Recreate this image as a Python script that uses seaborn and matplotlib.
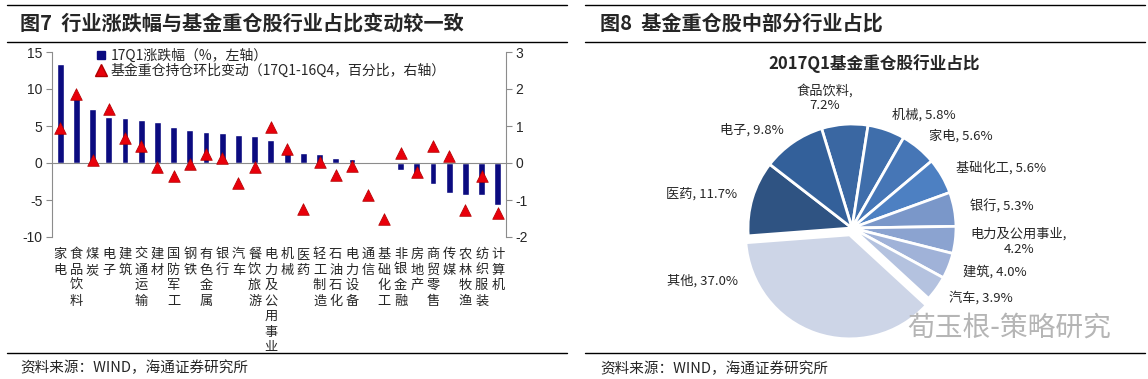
import numpy as np
import pandas as pd
import matplotlib
matplotlib.use('Agg')
import matplotlib.pyplot as plt
from matplotlib.lines import Line2D
import seaborn as sns

# 图7：行业涨跌幅 vs 基金重仓持仓环比变动
industries = ['家电', '食品饮料', '煤炭', '电子', '建筑', '交通运输', '建材', '国防军工',
              '钢铁', '有色金属', '银行', '汽车', '餐饮旅游', '电力及公用事业', '机械',
              '医药', '轻工制造', '石油石化', '电力设备', '通信', '基础化工', '非银金融',
              '房地产', '商贸零售', '传媒', '农林牧渔', '纺织服装', '计算机']
q1_change = [13.4, 9.0, 7.3, 6.2, 6.1, 5.8, 5.5, 4.9, 4.5, 4.2, 4.1, 3.8, 3.6, 3.1,
             1.4, 1.3, 1.2, 0.7, 0.6, 0.05, -0.05, -1.0, -1.8, -2.9, -4.1, -4.3, -4.3, -5.7]
holding_change = [0.95, 1.86, 0.07, 1.47, 0.67, 0.47, -0.12, -0.36, -0.02, 0.23, 0.13,
                  -0.54, -0.12, 0.97, 0.37, -1.23, 0.02, -0.32, -0.09, -0.86, -1.5, 0.27,
                  -0.25, 0.47, 0.18, -1.26, -0.36, -1.35]
left_ticks = [-10, -5, 0, 5, 10, 15]
right_ticks = [-2, -1, 0, 1, 2, 3]
legend_labels = ['17Q1涨跌幅（%，左轴）', '基金重仓持仓环比变动（17Q1-16Q4，百分比，右轴）']

# 图8：2017Q1基金重仓股行业占比
pie_names = ['食品饮料', '机械', '家电', '基础化工', '银行', '电力及公用事业', '建筑',
             '汽车', '其他', '医药', '电子']
pie_values = [7.2, 5.8, 5.6, 5.6, 5.3, 4.2, 4.0, 3.9, 37.0, 11.7, 9.8]
pie_colors = ['#3a67a2', '#3f6eab', '#4676b6', '#4d80c2', '#7a97c9', '#8ba3d0',
              '#a0b2d8', '#b4c2df', '#cdd5e7', '#2f5382', '#33609a']

bar_color = '#0b0b80'
tri_color = '#e8000b'
grey = '#8c8c8c'

sns.set_style('white')
plt.rcParams['font.family'] = ['Noto Sans CJK SC', 'DejaVu Sans']

W, H = 1148, 379
fig = plt.figure(figsize=(W / 100, H / 100), dpi=100)


def fx(px):
    return px / W


def fy(py):
    return 1 - py / H


# 页面上的横线
for x0, x1 in [(7, 567), (585, 1145)]:
    for y in (5, 42, 353):
        fig.add_artist(Line2D([fx(x0), fx(x1)], [fy(y), fy(y)], color='black', lw=1))

fig.text(fx(20), fy(23), '图7  行业涨跌幅与基金重仓股行业占比变动较一致',
         fontsize=14.5, weight='bold', va='center')
fig.text(fx(600), fy(23), '图8  基金重仓股中部分行业占比',
         fontsize=14.5, weight='bold', va='center')
fig.text(fx(20), fy(368), '资料来源：WIND，海通证券研究所', fontsize=10.5, va='center')
fig.text(fx(600), fy(369), '资料来源：WIND，海通证券研究所', fontsize=10.5, va='center')

# ---- 左图 ----
df = pd.DataFrame({'industry': industries, 'change': q1_change, 'holding': holding_change})

ax = fig.add_axes([fx(52), fy(237), fx(506) - fx(52), fy(52) - fy(237)])
sns.barplot(data=df, x='industry', y='change', color=bar_color, saturation=1,
            width=0.42, ax=ax)
ax.set_xlim(-0.5, len(industries) - 0.5)
ax.set_ylim(-10, 15)
ax.set_xlabel('')
ax.set_ylabel('')

ax2 = ax.twinx()
sns.scatterplot(x=np.arange(len(df)), y=df['holding'], marker='^', s=70,
                color=tri_color, edgecolor='#b00000', linewidth=0.5, ax=ax2, zorder=3)
ax2.set_ylim(-2, 3)
ax2.set_ylabel('')

for a in (ax, ax2):
    for s in a.spines.values():
        s.set_visible(False)
ax.spines['left'].set_visible(True)
ax.spines['left'].set_color(grey)
ax.spines['bottom'].set_visible(True)
ax.spines['bottom'].set_color(grey)
ax.spines['bottom'].set_position(('data', 0))
ax2.spines['right'].set_visible(True)
ax2.spines['right'].set_color(grey)

ax.set_xticks(np.arange(-0.5, len(industries), 1.0))
ax.tick_params(axis='x', length=3, width=0.8, color=grey, direction='out', labelbottom=False)
ax.set_yticks(left_ticks, labels=[str(t) for t in left_ticks],
              fontfamily='Liberation Sans', fontsize=10)
ax2.set_yticks(right_ticks, labels=[str(t) for t in right_ticks],
               fontfamily='Liberation Sans', fontsize=10)
ax.tick_params(axis='y', length=4, width=0.8, color=grey, direction='out', pad=3)
ax2.tick_params(axis='y', length=4, width=0.8, color=grey, direction='out', pad=3)

for i, name in enumerate(industries):
    ax.annotate('\n'.join(name), xy=(i, -10), xytext=(0, -8), textcoords='offset points',
                ha='center', va='top', fontsize=9.5, linespacing=1.25,
                annotation_clip=False)

handles = [Line2D([], [], marker='s', ls='none', color=bar_color, markersize=6),
           Line2D([], [], marker='^', ls='none', color=tri_color,
                  markeredgecolor='#b00000', markersize=9)]
ax2.legend(handles, legend_labels, loc='upper left', bbox_to_anchor=(0.095, 1.02),
           frameon=False, fontsize=10, handlelength=0.8, handletextpad=0.3,
           labelspacing=0.1, borderaxespad=0, borderpad=0)

# ---- 右图 ----
lim = 1.12
cx, cy, r = 852, 228, 104
ax_p = fig.add_axes([fx(cx - r * lim), fy(cy + r * lim), 2 * r * lim / W, 2 * r * lim / H])
wrap = {'食品饮料', '电力及公用事业'}
pie_labels = [f'{n},\n{v:.1f}%' if n in wrap else f'{n}, {v:.1f}%'
              for n, v in zip(pie_names, pie_values)]
explode = [0.07 if n == '其他' else 0 for n in pie_names]
wedges, texts = ax_p.pie(pie_values, labels=pie_labels, colors=pie_colors, startangle=107,
                         counterclock=False, explode=explode, labeldistance=1.15,
                         wedgeprops=dict(edgecolor='white', linewidth=2),
                         textprops=dict(fontsize=9.5))
ax_p.set_xlim(-lim, lim)
ax_p.set_ylim(-lim, lim)
for t in texts:
    t.set_clip_on(False)
    t.set_multialignment('center')
# Excel 的“最佳位置”标签
texts[0].set_ha('center')
texts[0].set_position((-0.26, 1.25))
texts[8].set_position((-1.10, -0.51))

fig.text(fx(874), fy(64), '2017Q1基金重仓股行业占比', ha='center', va='center',
         fontsize=12, weight='bold')
fig.text(fx(907), fy(328), '荀玉根-策略研究', fontsize=20, color='#b5b5b5', va='center')

fig.savefig('out.png', dpi=100)
